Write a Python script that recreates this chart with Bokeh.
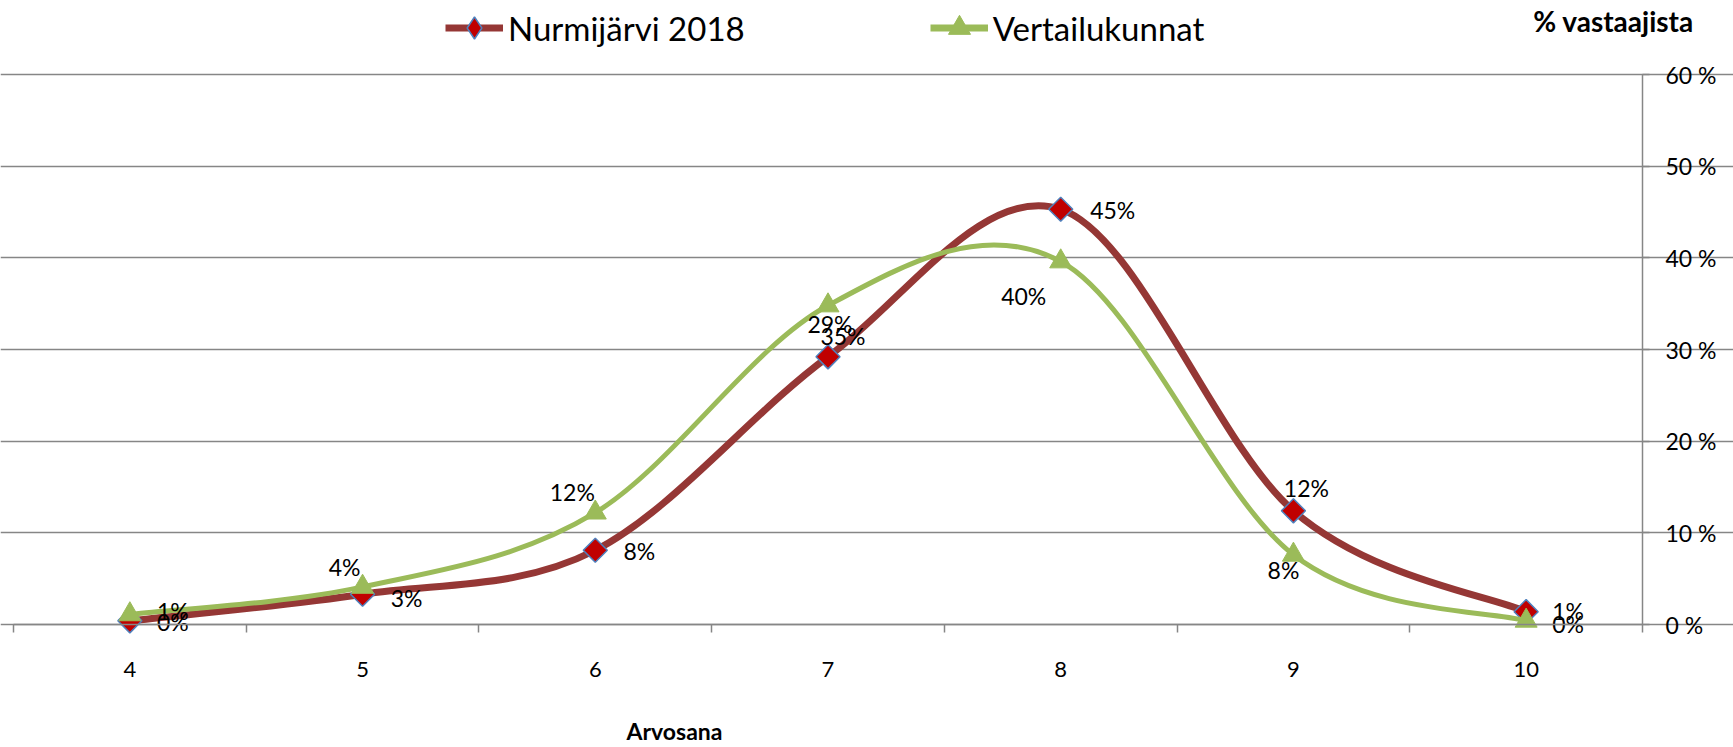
import numpy as np
from bokeh.plotting import figure
from bokeh.models import Range1d, FixedTicker, Legend, LegendItem, Label
from bokeh.core.properties import value
from bokeh.embed import file_html
from bokeh.resources import INLINE

# ---- data ----
grades = [4, 5, 6, 7, 8, 9, 10]
nurmijarvi = [0.4, 3.3, 8.1, 29.2, 45.3, 12.4, 1.4]
vertailu = [1.1, 4.1, 12.2, 34.8, 39.6, 7.6, 0.4]
y_ticks = [0, 10, 20, 30, 40, 50, 60]
series_names = ["Nurmijärvi 2018", "Vertailukunnat"]
y_title = "% vastaajista"
x_title = "Arvosana"

# label offsets (screen px) - layout only
red_off = [(43, 1), (44, 4), (44, 1), (2, -33), (52, 1), (13, -23), (42, -1)]
green_off = [(43, -3), (-18, -20), (-23, -21), (15, 30), (-37, 34), (-10, 15), (42, 3)]

FONT = "Lato"
RED_LINE = "#953735"
RED_FILL = "#C00000"
BLUE_EDGE = "#4F81BD"
GREEN = "#9BBB59"
GRAY = "#868686"

W, H = 1733, 747
# frame covers the whole canvas; category 3.5..10.5 spans x 13..1642,
# value 0..60 spans y 624..74 (pixels from top-left)
PX_PER_CAT = (1642 - 13) / 7.0
PX_PER_PCT = (624 - 74) / 60.0
x_start = 3.5 - 13 / PX_PER_CAT
x_end = 3.5 + (W - 13) / PX_PER_CAT
y_end = 60 + 74 / PX_PER_PCT
y_start = -(H - 624) / PX_PER_PCT

p = figure(width=W, height=H, output_backend="svg", toolbar_location=None,
           x_range=Range1d(x_start, x_end), y_range=Range1d(y_start, y_end),
           y_axis_location="right", min_border=0,
           min_border_left=0, min_border_right=0, min_border_top=0, min_border_bottom=0)
p.outline_line_color = None
p.background_fill_color = "white"

# axes (drawn at fixed data positions)
p.xaxis.fixed_location = 0
p.xaxis.bounds = (3.5, 10.5)
p.xaxis.ticker = FixedTicker(ticks=grades, minor_ticks=[3.5 + i for i in range(8)])
p.xaxis.axis_line_color = GRAY
p.xaxis.axis_line_width = 1.5
p.xaxis.major_tick_out = 0
p.xaxis.major_tick_in = 0
p.xaxis.minor_tick_out = 8
p.xaxis.minor_tick_in = 0
p.xaxis.minor_tick_line_color = GRAY
p.xaxis.minor_tick_line_width = 1.5
p.xaxis.major_label_text_font = FONT
p.xaxis.major_label_text_font_size = "22px"
p.xaxis.major_label_text_color = "black"
p.xaxis.major_label_standoff = 29

p.yaxis.fixed_location = 10.5
p.yaxis.bounds = (0, 60)
p.yaxis.ticker = FixedTicker(ticks=y_ticks, minor_ticks=[])
p.yaxis.major_label_overrides = {t: f"{t} %" for t in y_ticks}
p.yaxis.axis_line_color = GRAY
p.yaxis.axis_line_width = 1.5
p.yaxis.major_tick_out = 7
p.yaxis.major_tick_in = 0
p.yaxis.major_tick_line_color = GRAY
p.yaxis.major_tick_line_width = 1.5
p.yaxis.major_label_text_font = FONT
p.yaxis.major_label_text_font_size = "23px"
p.yaxis.major_label_text_color = "black"
p.yaxis.major_label_standoff = 16

p.xgrid.visible = False
p.ygrid.ticker = FixedTicker(ticks=y_ticks, minor_ticks=[])
p.ygrid.bounds = (3.5, 10.5)
p.ygrid.grid_line_color = GRAY
p.ygrid.grid_line_width = 1.5


def smooth_segments(xs, ys):
    P = np.column_stack([xs, ys]).astype(float)
    n = len(P)
    ext = np.vstack([P[0], P, P[-1]])
    c0 = P[:-1] + (ext[2:n + 1] - ext[0:n - 1]) / 6.0
    c1 = P[1:] - (ext[3:n + 2] - ext[1:n]) / 6.0
    return dict(x0=P[:-1, 0], y0=P[:-1, 1], x1=P[1:, 0], y1=P[1:, 1],
                cx0=c0[:, 0], cy0=c0[:, 1], cx1=c1[:, 0], cy1=c1[:, 1])


rs = smooth_segments(grades, nurmijarvi)
gs = smooth_segments(grades, vertailu)

r_line = p.bezier(**rs, line_color=RED_LINE, line_width=7, line_cap="round")
r_mark = p.scatter(grades, nurmijarvi, marker="square", angle=np.pi / 4, size=17,
                   fill_color=RED_FILL, line_color=BLUE_EDGE, line_width=1.5)
g_line = p.bezier(**gs, line_color=GREEN, line_width=5, line_cap="round")
g_mark = p.scatter(grades, vertailu, marker="triangle", size=22,
                   fill_color=GREEN, line_color=GREEN, line_width=1)

# hidden proxies used only for the legend swatches
r_leg_line = p.line(grades, nurmijarvi, line_color=RED_LINE, line_width=7, visible=False)
r_leg_mark = p.scatter(grades, nurmijarvi, marker="diamond", size=10,
                       fill_color=RED_FILL, line_color=BLUE_EDGE, line_width=1.5, visible=False)
g_leg_line = p.line(grades, vertailu, line_color=GREEN, line_width=7, visible=False)
g_leg_mark = p.scatter(grades, vertailu, marker="triangle", size=10,
                       fill_color=GREEN, line_color=GREEN, line_width=1, visible=False)

# data labels
p.text(x=grades, y=nurmijarvi, text=[f"{round(v)}%" for v in nurmijarvi],
       x_offset=[o[0] for o in red_off], y_offset=[o[1] for o in red_off],
       text_align="center", text_baseline="middle", text_font=value(FONT),
       text_font_size="23px", text_color="black")
p.text(x=grades, y=vertailu, text=[f"{round(v)}%" for v in vertailu],
       x_offset=[o[0] for o in green_off], y_offset=[o[1] for o in green_off],
       text_align="center", text_baseline="middle", text_font=value(FONT),
       text_font_size="23px", text_color="black")

legend = Legend(items=[LegendItem(label=series_names[0], renderers=[r_leg_line, r_leg_mark]),
                       LegendItem(label=series_names[1], renderers=[g_leg_line, g_leg_mark])],
                location=(445, 692), orientation="horizontal",
                glyph_width=58, glyph_height=55, label_standoff=5, spacing=185,
                padding=0, margin=0, border_line_color=None, background_fill_alpha=0,
                label_text_font=FONT, label_text_font_size="33px", label_text_color="black")
p.add_layout(legend, "center")

p.add_layout(Label(x=1613, y=727, x_units="screen", y_units="screen", text=y_title,
                   text_align="center", text_baseline="middle", text_font=FONT,
                   text_font_size="28px", text_font_style="bold", text_color="black"))
p.add_layout(Label(x=674, y=17, x_units="screen", y_units="screen", text=x_title,
                   text_align="center", text_baseline="middle", text_font=FONT,
                   text_font_size="23px", text_font_style="bold", text_color="black"))

open("out.html", "w").write(file_html(p, INLINE))
